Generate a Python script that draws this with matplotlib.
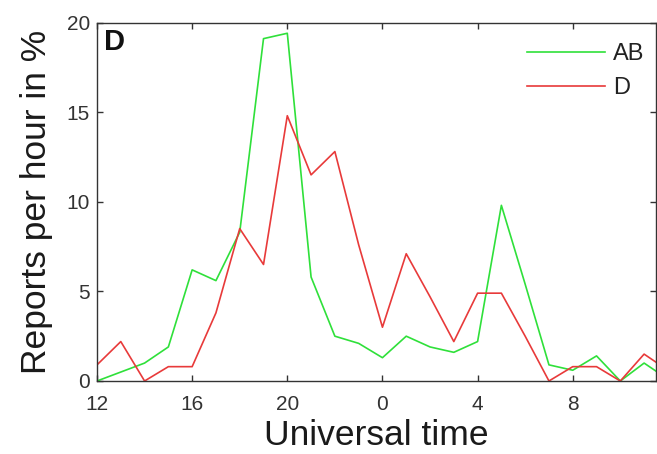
import matplotlib
matplotlib.use("Agg")
import matplotlib.pyplot as plt

plt.rcParams['font.family'] = ['Liberation Sans', 'DejaVu Sans']

hours = list(range(12, 37))
ab_values = [0.0, 0.5, 1.0, 1.9, 6.2, 5.6, 8.3, 19.1, 19.4, 5.8, 2.5, 2.1, 1.3,
             2.5, 1.9, 1.6, 2.2, 9.8, 5.4, 0.9, 0.6, 1.4, 0.0, 1.0, 0.1]
d_values = [0.9, 2.2, 0.0, 0.8, 0.8, 3.8, 8.5, 6.5, 14.8, 11.5, 12.8, 7.6, 3.0,
            7.1, 4.7, 2.2, 4.9, 4.9, 2.5, 0.0, 0.8, 0.8, 0.0, 1.5, 0.6]
xtick_pos = [12, 16, 20, 24, 28, 32]
xtick_labels = ['12', '16', '20', '0', '4', '8']
ytick_pos = [0, 5, 10, 15, 20]
series_names = ['AB', 'D']

fig = plt.figure(figsize=(6.57, 4.54), dpi=100)
ax = fig.add_axes([97/657, 1 - 381/454, (656 - 97)/657, (381 - 22.5)/454])

ax.plot(hours, ab_values, color='#2fe03a', lw=1.2, label=series_names[0])
ax.plot(hours, d_values, color='#e83a3a', lw=1.2, label=series_names[1])

ax.set_xlim(12, 35.5)
ax.set_ylim(0, 20)
ax.set_xticks(xtick_pos)
ax.set_xticklabels(xtick_labels)
ax.set_yticks(ytick_pos)
ax.tick_params(direction='in', top=True, right=True, length=4, width=1,
               labelsize=15, colors='#333333')
ax.tick_params(axis='x', pad=10)
ax.tick_params(axis='y', pad=5)
for s in ax.spines.values():
    s.set_color('#333333')
    s.set_linewidth(1.0)

ax.set_xlabel('Universal time', fontsize=25.5, color='#1a1a1a', labelpad=4)
ax.set_ylabel('Reports per hour in %', fontsize=25.5, color='#1a1a1a', labelpad=10)

ax.text(0.012, 0.985, 'D', transform=ax.transAxes, fontsize=21, fontweight='bold',
        va='top', ha='left', color='#111111')

leg = ax.legend(loc='upper left', bbox_to_anchor=(527/657, 1 - 43/454),
                bbox_transform=fig.transFigure, frameon=False, fontsize=17,
                handlelength=3.3, handletextpad=0.33, labelspacing=0.5,
                borderpad=0, borderaxespad=0)
for t in leg.get_texts():
    t.set_color('#222222')

fig.savefig('out.png', dpi=100)
